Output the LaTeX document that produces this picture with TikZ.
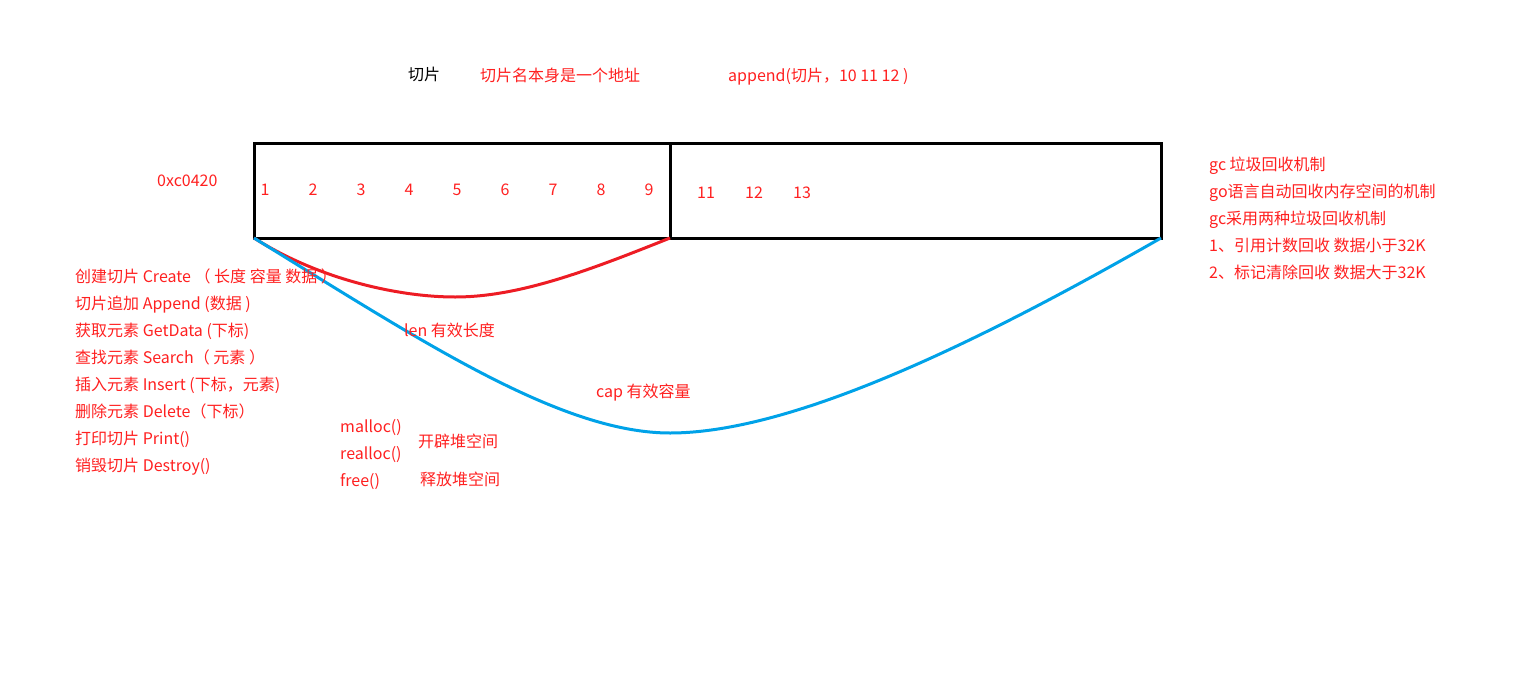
\documentclass[tikz,border=0pt]{standalone}
\usepackage{fontspec}
\setmainfont{Noto Sans CJK SC}
\definecolor{penred}{HTML}{ED1C24}
\definecolor{penblue}{HTML}{00A2E8}
\definecolor{inkred}{HTML}{FF2020}
\tikzset{
  memcell/.style={draw, line width=3pt, inner sep=0pt, outer sep=0pt, minimum height=95pt},
  note/.style={anchor=base west, yshift=-6pt, inner sep=0pt, text=inkred, font=\fontsize{16}{19}\selectfont},
  num/.style={anchor=base, yshift=-6pt, inner sep=0pt, text=inkred, font=\fontsize{16}{19}\selectfont},
}
\begin{document}
\begin{tikzpicture}[x=1pt,y=-1pt]
                        \useasboundingbox (0,0) rectangle (1532,699);
                        \node[memcell, minimum width=416pt] (lenpart) at (462,190.5) {};
                        \node[memcell, minimum width=491pt] (cappart) at (915.5,190.5) {};
                        \coordinate (lenbottom) at (455,297);
                        \coordinate (capbottom) at (670,433);
                        \draw[penred, line width=3pt] (lenpart.south west) .. controls (320,280) and (400,297) .. (lenbottom)
                          .. controls (520,297) and (590,270) .. (lenpart.south east);
                        \draw[penblue, line width=3pt] (lenpart.south west) .. controls (420,340) and (560,433) .. (capbottom)
                          .. controls (800,433) and (1000,330) .. (cappart.south east);
                        \foreach \i in {1,...,9}
                          \node[num] (cell\i) at (217+48*\i,189) {\i};
                        \foreach \i in {11,12,13}
                          \node[num] (cell\i) at (706+48*\i-528,192) {\i};
                        \node[note, text=black] (slicetitle) at (408,74) {切片};
                        \node[note] (nameaddr) at (480,75) {切片名本身是一个地址};
                        \node[note] (appendcall) at (728,75) {append(切片，10 11 12 )};
                        \node[note] (addr) at (157,180) {0xc0420};
                        \foreach \txt [count=\k from 0] in {{创建切片 Create （ 长度 容量 数据 ）},{切片追加 Append (数据 )},
                          {获取元素 GetData (下标)},{查找元素 Search（ 元素 ）},{插入元素 Insert (下标，元素)},
                          {删除元素 Delete（下标）},{打印切片 Print()},{销毁切片 Destroy()}}
                          \node[note] (op\k) at (75,276+27*\k) {\txt};
                        \foreach \txt [count=\k from 0] in {{gc 垃圾回收机制},{go语言自动回收内存空间的机制},
                          {gc采用两种垃圾回收机制},{1、引用计数回收 数据小于32K},{2、标记清除回收 数据大于32K}}
                          \node[note] (gc\k) at (1209,164+27*\k) {\txt};
                        \node[note] (lenlabel) at (404,330) {len 有效长度};
                        \node[note] (caplabel) at (596,391) {cap 有效容量};
                        \node[note] (mallocfn) at (340,426) {malloc()};
                        \node[note] (reallocfn) at (340,453) {realloc()};
                        \node[note] (freefn) at (340,480) {free()};
                        \node[note] (allocnote) at (418,441) {开辟堆空间};
                        \node[note] (freenote) at (420,479) {释放堆空间};
                      \end{tikzpicture}
\end{document}
